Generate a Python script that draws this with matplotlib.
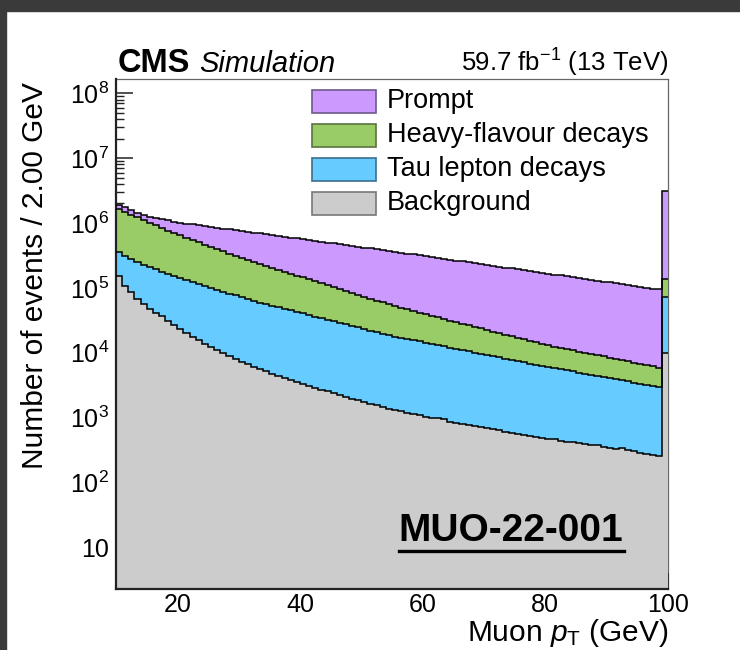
import numpy as np
import matplotlib
matplotlib.use("Agg")
import matplotlib.pyplot as plt
from matplotlib.patches import Rectangle
from matplotlib.lines import Line2D
from matplotlib.ticker import FixedLocator, FuncFormatter, MultipleLocator, NullFormatter

plt.rcParams["font.family"] = ["Liberation Sans", "DejaVu Sans"]
plt.rcParams["mathtext.fontset"] = "custom"
plt.rcParams["mathtext.rm"] = "Liberation Sans"
plt.rcParams["mathtext.it"] = "Liberation Sans:italic"
plt.rcParams["mathtext.bf"] = "Liberation Sans:bold"

# 1 GeV bins from 10 to 100; the last bin (99-100) carries the overflow.
# Stack heights are kept as log10(events), one list per stack boundary.
x_lo, x_hi, bin_width = 10.0, 100.0, 1.0

total_log10 = [
    6.280, 6.240, 6.200, 6.160, 6.120, 6.095, 6.075, 6.055, 6.040, 6.020,
    6.005, 5.990, 5.978, 5.966, 5.954, 5.940, 5.926, 5.914, 5.902, 5.890,
    5.878, 5.866, 5.853, 5.840, 5.827, 5.814, 5.801, 5.788, 5.776, 5.763,
    5.750, 5.737, 5.724, 5.711, 5.698, 5.686, 5.673, 5.660, 5.647, 5.634,
    5.621, 5.608, 5.596, 5.583, 5.570, 5.556, 5.543, 5.529, 5.516, 5.502,
    5.489, 5.475, 5.462, 5.448, 5.435, 5.421, 5.408, 5.394, 5.381, 5.367,
    5.354, 5.340, 5.327, 5.313, 5.300, 5.286, 5.273, 5.259, 5.246, 5.232,
    5.219, 5.205, 5.192, 5.178, 5.165, 5.152, 5.138, 5.125, 5.111, 5.098,
    5.084, 5.071, 5.058, 5.044, 5.031, 5.017, 5.004, 4.990, 4.977, 6.490]
hf_top_log10 = [
    6.220, 6.175, 6.130, 6.087, 6.045, 6.004, 5.963, 5.923, 5.884, 5.846,
    5.809, 5.772, 5.736, 5.700, 5.666, 5.632, 5.598, 5.564, 5.530, 5.496,
    5.462, 5.430, 5.400, 5.370, 5.340, 5.310, 5.280, 5.250, 5.220, 5.190,
    5.161, 5.131, 5.101, 5.071, 5.041, 5.012, 4.982, 4.952, 4.922, 4.893,
    4.863, 4.834, 4.805, 4.776, 4.745, 4.720, 4.695, 4.670, 4.645, 4.620,
    4.595, 4.570, 4.546, 4.521, 4.497, 4.472, 4.448, 4.423, 4.399, 4.375,
    4.350, 4.326, 4.302, 4.278, 4.254, 4.230, 4.206, 4.182, 4.158, 4.136,
    4.116, 4.096, 4.076, 4.057, 4.038, 4.019, 4.000, 3.981, 3.962, 3.943,
    3.924, 3.905, 3.886, 3.867, 3.848, 3.829, 3.810, 3.791, 3.772, 5.140]
tau_top_log10 = [
    5.560, 5.490, 5.440, 5.395, 5.352, 5.318, 5.285, 5.252, 5.220, 5.188,
    5.157, 5.126, 5.095, 5.064, 5.033, 5.003, 4.973, 4.943, 4.913, 4.884,
    4.855, 4.826, 4.799, 4.774, 4.750, 4.726, 4.702, 4.678, 4.654, 4.630,
    4.606, 4.582, 4.558, 4.534, 4.510, 4.486, 4.462, 4.438, 4.414, 4.390,
    4.366, 4.342, 4.318, 4.294, 4.270, 4.250, 4.231, 4.212, 4.193, 4.174,
    4.155, 4.136, 4.117, 4.098, 4.079, 4.060, 4.041, 4.022, 4.003, 3.984,
    3.965, 3.946, 3.927, 3.908, 3.889, 3.870, 3.851, 3.832, 3.813, 3.796,
    3.779, 3.762, 3.745, 3.728, 3.711, 3.694, 3.677, 3.660, 3.642, 3.625,
    3.608, 3.591, 3.574, 3.557, 3.540, 3.523, 3.506, 3.489, 3.472, 4.860]
bkg_log10 = [
    5.190, 5.030, 4.930, 4.830, 4.750, 4.680, 4.620, 4.560, 4.495, 4.430,
    4.365, 4.305, 4.250, 4.195, 4.140, 4.090, 4.040, 3.995, 3.950, 3.905,
    3.865, 3.825, 3.785, 3.750, 3.715, 3.680, 3.647, 3.614, 3.583, 3.552,
    3.520, 3.490, 3.460, 3.432, 3.403, 3.375, 3.347, 3.320, 3.293, 3.267,
    3.240, 3.215, 3.190, 3.165, 3.140, 3.118, 3.097, 3.076, 3.056, 3.036,
    3.016, 2.996, 2.990, 2.975, 2.940, 2.922, 2.905, 2.888, 2.871, 2.854,
    2.837, 2.820, 2.802, 2.784, 2.766, 2.748, 2.730, 2.712, 2.695, 2.680,
    2.670, 2.672, 2.645, 2.630, 2.626, 2.610, 2.590, 2.572, 2.580, 2.550,
    2.535, 2.520, 2.528, 2.495, 2.478, 2.462, 2.445, 2.428, 2.410, 4.000]

labels = ["Prompt", "Heavy-flavour decays", "Tau lepton decays", "Background"]
colors = ["#cc99ff", "#99cc66", "#66ccff", "#cccccc"]
edge_colors = ["#6e5a8a", "#5a7340", "#3d6f8c", "#777777"]
x_ticks = [20, 40, 60, 80, 100]
y_decades = range(1, 9)

edges = np.arange(x_lo, x_hi + bin_width / 2, bin_width)
stack_tops = [10 ** np.array(v) for v in (total_log10, hf_top_log10, tau_top_log10, bkg_log10)]

y_lo, y_hi = 2.28, 1.66e8

fig = plt.figure(figsize=(7.4, 6.5), dpi=100)
ax = fig.add_axes([116 / 740, 1 - 589 / 650, 552 / 740, 510 / 650])

# draw from the total downwards so each lower layer covers the one above
for top, color in zip(stack_tops, colors):
    ax.stairs(top, edges, baseline=1e-3, fill=True, color=color, lw=0, zorder=2)
    ax.stairs(top, edges, baseline=None, color="black", lw=1.1, zorder=3)

ax.set_yscale("log")
ax.set_xlim(x_lo, x_hi)
ax.set_ylim(y_lo, y_hi)

ax.xaxis.set_major_locator(FixedLocator(x_ticks))
ax.xaxis.set_minor_locator(MultipleLocator(5))
ax.yaxis.set_major_locator(FixedLocator([10.0 ** k for k in y_decades]))
minor_y = [m * 10.0 ** k for k in range(0, 9) for m in range(2, 10)]
ax.yaxis.set_minor_locator(FixedLocator([v for v in minor_y if y_lo <= v <= y_hi]))
ax.yaxis.set_minor_formatter(NullFormatter())


def decade_label(v, pos):
    e = int(round(np.log10(v)))
    return "10" if e == 1 else r"$10^{%d}$" % e


ax.yaxis.set_major_formatter(FuncFormatter(decade_label))

ax.tick_params(which="both", direction="in", top=False, right=False, colors="#222222",
               labelsize=18, labelcolor="black")
ax.tick_params(axis="y", which="major", length=12.5, width=1.1, pad=5)
ax.tick_params(axis="y", which="minor", length=6, width=1.0)
ax.tick_params(axis="x", which="major", length=11.5, width=1.1, pad=3)
ax.tick_params(axis="x", which="minor", length=6, width=1.0)

for side in ["left", "bottom"]:
    ax.spines[side].set_linewidth(1.6)
    ax.spines[side].set_color("#222222")
for side in ["top", "right"]:
    ax.spines[side].set_linewidth(0.9)
    ax.spines[side].set_color("#666666")
    ax.spines[side].set_zorder(1)

# legend boxes, no frame
leg_x, leg_w, leg_h = 0.355, 0.116, 0.045
row_y = [0.956, 0.890, 0.823, 0.756]
for lab, col, ec, yc in zip(labels, colors, edge_colors, row_y):
    ax.add_patch(Rectangle((leg_x, yc - leg_h / 2), leg_w, leg_h, transform=ax.transAxes,
                           facecolor=col, edgecolor=ec, lw=1.2, zorder=5))
    ax.text(leg_x + leg_w + 0.02, yc, lab, transform=ax.transAxes, fontsize=19.5,
            va="center", ha="left", zorder=5)

# CMS header
fig.text(118 / 740, 1 - 72 / 650, "CMS", fontsize=23.5, fontweight="bold", ha="left",
         va="baseline")
fig.text(199 / 740, 1 - 72 / 650, "Simulation", fontsize=21, style="italic", ha="left",
         va="baseline")
fig.text(668 / 740, 1 - 72 / 650, r"59.7 fb$^{-1}$ (13 TeV)", fontsize=18.5, ha="right",
         va="baseline")

fig.text(668 / 740, 1 - 641 / 650, r"Muon $p_{\mathrm{T}}$ (GeV)", fontsize=21.5,
         ha="right", va="baseline")
fig.text(35 / 740, 1 - 82 / 650, "Number of events / 2.00 GeV", fontsize=21.5,
         rotation=90, ha="center", va="top")

tag = ax.text(0.716, 0.094, "MUO-22-001", transform=ax.transAxes, fontsize=28,
              fontweight="bold", ha="center", va="baseline", zorder=6)

# underline the tag
fig.canvas.draw()
bb = tag.get_window_extent()
fig.add_artist(Line2D([bb.x0, bb.x1], [bb.y0 - 2, bb.y0 - 2], transform=None,
                      color="black", lw=2.4))

# dark surround at the top and left
fig.add_artist(Rectangle((0, 1 - 11 / 650), 1, 11 / 650, transform=fig.transFigure,
                         color="#3a3a3a", zorder=10))
fig.add_artist(Rectangle((0, 0), 6 / 740, 1, transform=fig.transFigure,
                         color="#3a3a3a", zorder=10))

fig.savefig("out.png", dpi=100)
